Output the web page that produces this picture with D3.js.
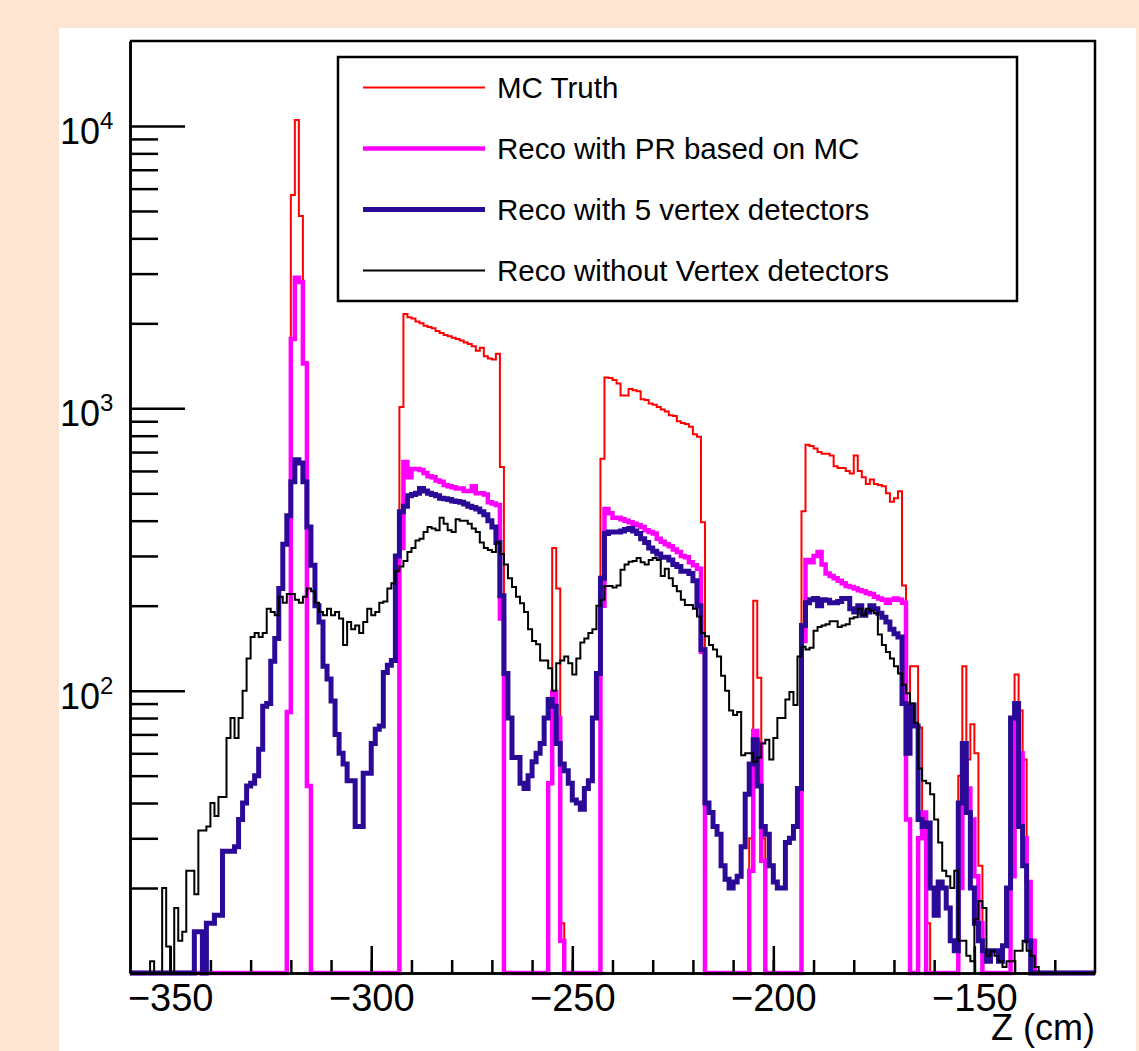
<!DOCTYPE html>
<html lang="en">
<head>
<meta charset="utf-8">
<title>Z (cm)</title>
<script src="https://d3js.org/d3.v7.min.js"></script>
<style>
  html, body { margin: 0; padding: 0; background: #fde5d3; }
  svg { display: block; }
  text { font-family: "Liberation Sans", Arial, Helvetica, sans-serif; fill: #000; }
  path.hist { fill: none; stroke-linejoin: miter; }
  .axis path, .axis line { fill: none; stroke: #000; stroke-width: 2.5px; }
</style>
</head>
<body>
<script>

// histogram bins: 1 cm wide, first bin starts at -360
var binStart = -360;
var binWidth = 1;

var mcTruth = [
  0,0,0,0,0,0,0,0,0,0, 0,0,0,0,0,0,0,0,0,0, 0,0,0,0,0,0,0,0,0,0, 0,0,0,0,0,0,0,0,0,
  84,5700,10500,4800,1460,46,
  0,0,0,0,0,0,0,0,0,0, 0,0,0,0,0,0,0,0,0,0, 0,0,
  1010,2160,2100,2080,2030,2000,1960,1940,1920,1880,1850,1820,1800,1780,1760,1740,1710,1690,1660,1600,1640,1530,1500,1490,1560,620,
  0,0,0,0,0,0,0,0,0,0,0,
  47,320,230,15,
  0,0,0,0,0,0,0,0,0,
  663,1285,1280,1260,1225,1110,1110,1170,1160,1150,1077,1070,1040,1030,1010,990,975,946,940,900,887,880,860,810,793,395,
  0,0,0,0,0,0,0,0,0,0,0,
  30,208,111,30,
  0,0,0,0,0,0,0,0,0,
  432,743,735,721,700,690,690,681,624,615,615,600,588,681,600,570,540,560,540,535,530,500,467,480,509,236,
  85,122,122,74,37,15,
  0,0,0,0,0,0,0,
  50,122,57,76,60,24,
  0,0,0,0,0,0,0,
  25,114,85,57,20,
  0,0,0,0,0,0,0,0,0,0,0,0,0,0,0,0
];

var recoPR = [
  0,0,0,0,0,0,0,0,0,0, 0,0,0,0,0,0,0,0,0,0, 0,0,0,0,0,0,0,0,0,0, 0,0,0,0,0,0,0,0,0,
  84,1760,2900,2800,1440,46,
  0,0,0,0,0,0,0,0,0,0, 0,0,0,0,0,0,0,0,0,0, 0,0,
  320,645,570,610,610,605,590,575,570,555,550,535,530,525,520,520,510,510,530,500,500,495,465,460,455,180,
  0,0,0,0,0,0,0,0,0,0,0,
  47,99,80,13,
  0,0,0,0,0,0,0,0,0,
  200,440,425,410,410,405,400,395,390,385,380,370,365,360,345,337,330,325,316,310,300,297,285,278,270,137,
  0,0,0,0,0,0,0,0,0,0,0,
  23,72,65,25,
  0,0,0,0,0,0,0,0,0,
  150,290,285,300,310,280,260,255,250,245,240,235,233,230,227,225,222,220,215,212,210,205,210,212,210,205,
  35,0,0,30,37,0,
  0,0,0,0,0,0,0,
  20,55,45,35,22,15,
  0,0,0,0,0,0,0,
  22,80,60,30,21,
  13,
  0,0,0,0,0,0,0,0,0,0,0,0,0,0,0
];

var reco5Vtx = [
  0,0,0,0,0,0,0,0,0,0,0,0,0,0,0,0,
  14,14,0,15,15, 16,16,27,27,27, 28,35,40,46,47, 50,62,88,90,127,
  153,230,330,416,550, 657,640,550,380,278, 200,175,122,110,92, 70,60,55,48,48,
  33,33,51,51,65, 73,75,116,123,128,
  300,430,450,490,495,500,520,510,500,495, 490,480,478,475,470,468,465,458,450,445,
  440,430,420,400,380,335,217,115,80,58, 58,47,45,50,56,60,65,80,93,88,
  65,55,52,47,41,40,38,45,48,80,
  115,250,360,365,365,365,368,372,375,368, 360,345,335,320,312,305,297,297,290,280,
  275,265,265,260,245,200,140,40,37,33, 31,24,21.5,20,21,22,28,43,55,67,
  46,33,31,24,21,20,20,29,30,33,
  45,170,205,210,212,200,210,209,205,205, 207,212,212,195,190,200,185,190,200,195,
  188,182,175,165,159,155,90,60,89,75, 35,33,34,20,16,21,20,17,13,12,
  40,65,37,20,15,13,12,11,12,12,
  11,12.5,20,80,90,33,24,13,
  0,0,0,0,0,0,0,0,0,0,0,0,0,0,0,0
];

var recoNoVtx = [
  0,0,0,0,0,
  11,0,0,20,12.4,0,17,13,14,23,
  23,19,32,32,33,40,36,42,42,68,
  80,68,80,100,130,155,160,155,160,195,
  190,185,215,205,220,220,210,205,215,230,
  225,205,190,185,195,185,190,180,145,175,
  165,170,160,175,195,185,190,205,207,230,
  240,265,275,288,310,320,340,345,365,380,
  375,370,410,390,370,365,405,400,400,390,
  375,365,335,320,315,310,335,305,280,250,
  233,215,204,190,165,150,146,128,128,120,
  100,125,128,132,125,114,130,148,153,160,
  165,200,210,235,235,232,236,268,280,286,
  288,295,285,280,290,295,290,255,270,250,
  235,225,210,201,201,195,183,160,156,145,
  140,132,113,100,85,82,84,59,60,60,
  56,58,65,67,57,68,80,80,93,99,
  89,132,143,140,142,163,168,170,172,176,
  176,168,170,172,180,182,195,185,195,192,
  188,158,145,137,130,122,115,105,98,90,
  77,53,48,47,43,35,29,23,22,20,
  23,13,13,11.5,11,15.5,18,17,11.5,12,
  11.5,11,10.5,11,11,12,12,13,12,11.5,
  10.5,
  0,0,0,0,0,0,0,0,0,0,0,0,0,0
];

var xMajorTicks = [-350, -300, -250, -200, -150];
var xMinorTicks = [-350, -340, -330, -320, -310, -300, -290, -280, -270, -260, -250, -240, -230, -220, -210, -200, -190, -180, -170, -160, -150, -140, -130];
var yDecades = [100, 1000, 10000];
var yExponents = ["2", "3", "4"];
var legendLabels = ["MC Truth", "Reco with PR based on MC", "Reco with 5 vertex detectors", "Reco without Vertex detectors"];

var series = [
  {vals: mcTruth,   color: "#ff0000", width: 2},
  {vals: recoPR,    color: "#ff00ff", width: 4.5},
  {vals: reco5Vtx,  color: "#2a0a96", width: 5},
  {vals: recoNoVtx, color: "#000000", width: 2}
];

var width = 1139, height = 1051;
var frame = {left: 130, right: 1095, top: 41, bottom: 973};
var yMin = 10, yMax = 20000;

var x = d3.scaleLinear().domain([-360, -120]).range([frame.left, frame.right]);
var y = d3.scaleLog().domain([yMin, yMax]).range([frame.bottom, frame.top]);

var svg = d3.select("body").append("svg")
  .attr("width", width).attr("height", height);

svg.append("rect").attr("x", 0).attr("y", 0).attr("width", width).attr("height", height).attr("fill", "#fde5d3");
svg.append("rect").attr("x", 59).attr("y", 28).attr("width", 1077).attr("height", height - 28).attr("fill", "#ffffff");

// histograms as step outlines
function stepPoints(vals) {
  var pts = [];
  vals.forEach(function(v, i) {
    var x0 = binStart + i * binWidth;
    var vv = Math.max(v, yMin);
    pts.push([x0, vv], [x0 + binWidth, vv]);
  });
  return pts;
}

var line = d3.line()
  .x(function(d) { return x(d[0]); })
  .y(function(d) { return y(d[1]); });

svg.selectAll("path.hist")
  .data(series)
  .enter().append("path")
  .attr("class", "hist")
  .attr("stroke", function(d) { return d.color; })
  .attr("stroke-width", function(d) { return d.width; })
  .attr("d", function(d) { return line(stepPoints(d.vals)); });

// frame top / right
svg.append("path")
  .attr("d", "M" + frame.left + "," + frame.top + "H" + frame.right + "V" + frame.bottom)
  .attr("fill", "none").attr("stroke", "#000").attr("stroke-width", 2.5);

// x axis, ticks pointing inside
var xAxisMinor = d3.axisBottom(x).tickValues(xMinorTicks).tickSizeInner(-13).tickSizeOuter(0).tickFormat("");
var xAxis = d3.axisBottom(x).tickValues(xMajorTicks).tickSizeInner(-27).tickSizeOuter(0).tickPadding(11)
  .tickFormat(function(d) { return "\u2212" + Math.abs(d); });

svg.append("g").attr("class", "axis x minor")
  .attr("transform", "translate(0," + frame.bottom + ")").call(xAxisMinor);
var gx = svg.append("g").attr("class", "axis x")
  .attr("transform", "translate(0," + frame.bottom + ")").call(xAxis);
gx.selectAll("text")
  .attr("font-family", "'Liberation Sans', Arial, sans-serif")
  .attr("font-size", 38).attr("fill", "#000");

// y axis, log, ticks pointing inside
var yMinor = [];
[10, 100, 1000, 10000].forEach(function(dec) {
  for (var k = 2; k <= 9; k++) {
    if (dec * k < yMax) yMinor.push(dec * k);
  }
});
var yAxisMinor = d3.axisLeft(y).tickValues(yMinor).tickSizeInner(-28).tickSizeOuter(0).tickFormat("");
var yAxis = d3.axisLeft(y).tickValues(yDecades).tickSizeInner(-55).tickSizeOuter(0).tickFormat("");

svg.append("g").attr("class", "axis y minor")
  .attr("transform", "translate(" + frame.left + ",0)").call(yAxisMinor);
svg.append("g").attr("class", "axis y")
  .attr("transform", "translate(" + frame.left + ",0)").call(yAxis);

var yLab = svg.append("g").selectAll("g")
  .data(yDecades)
  .enter().append("g")
  .attr("transform", function(d) { return "translate(0," + y(d) + ")"; });
yLab.append("text")
  .attr("x", 100).attr("y", 18)
  .attr("text-anchor", "end")
  .attr("font-size", 36)
  .text("10");
yLab.append("text")
  .attr("x", 100).attr("y", 3)
  .attr("font-size", 24)
  .text(function(d, i) { return yExponents[i]; });

// axis title
svg.append("text")
  .attr("x", frame.right).attr("y", 1040)
  .attr("text-anchor", "end")
  .attr("font-size", 36)
  .text("Z (cm)");

// legend
var legend = svg.append("g");
legend.append("rect")
  .attr("x", 338).attr("y", 57).attr("width", 679).attr("height", 244)
  .attr("fill", "#fff").attr("stroke", "#000").attr("stroke-width", 2.5);

var rowH = 244 / legendLabels.length;
var entry = legend.selectAll("g.entry")
  .data(series)
  .enter().append("g")
  .attr("class", "entry")
  .attr("transform", function(d, i) { return "translate(0," + (57 + rowH * (i + 0.5)) + ")"; });
entry.append("line")
  .attr("x1", 363).attr("x2", 485)
  .attr("stroke", function(d) { return d.color; })
  .attr("stroke-width", function(d) { return d.width; });
entry.append("text")
  .attr("x", 497).attr("y", 10.5)
  .attr("font-size", 29.5)
  .text(function(d, i) { return legendLabels[i]; });

</script>
</body>
</html>
